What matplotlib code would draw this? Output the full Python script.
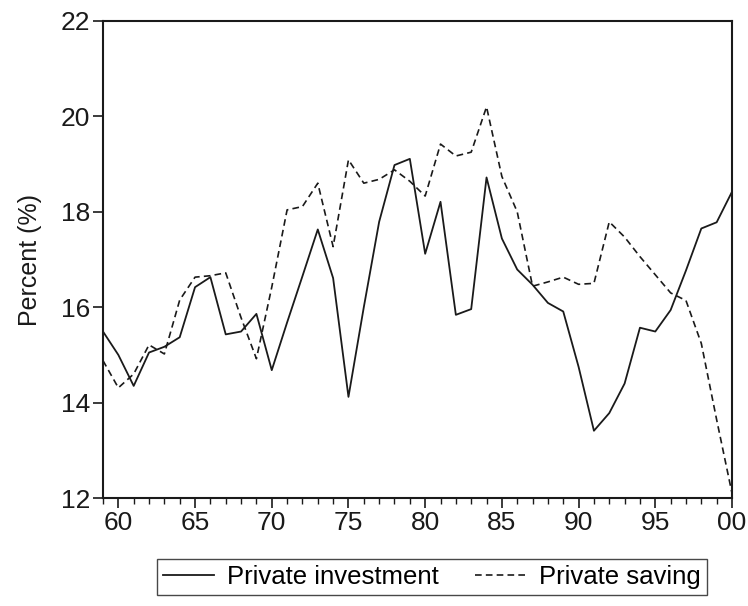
import matplotlib
matplotlib.use('Agg')
import matplotlib.pyplot as plt
from matplotlib.ticker import MultipleLocator, FuncFormatter

plt.rcParams['font.family'] = ['Liberation Sans', 'DejaVu Sans']

# Data (percent of GDP), 1959-2000
years = list(range(1959, 2001))
investment = [15.49, 15.00, 14.35, 15.05, 15.17, 15.37, 16.42, 16.63, 15.43, 15.49,
              15.86, 14.68, 15.68, 16.65, 17.63, 16.61, 14.12, 16.00, 17.79, 18.98,
              19.11, 17.12, 18.21, 15.84, 15.96, 18.72, 17.44, 16.79, 16.47, 16.09,
              15.91, 14.75, 13.41, 13.78, 14.40, 15.57, 15.49, 15.94, 16.77, 17.65,
              17.78, 18.42]
saving = [14.88, 14.31, 14.60, 15.21, 15.02, 16.15, 16.63, 16.66, 16.72, 15.78,
          14.92, 16.42, 18.04, 18.11, 18.60, 17.27, 19.09, 18.60, 18.68, 18.88,
          18.64, 18.33, 19.42, 19.17, 19.25, 20.20, 18.74, 18.00, 16.44, 16.53,
          16.63, 16.48, 16.50, 17.79, 17.47, 17.06, 16.68, 16.30, 16.14, 15.24,
          13.64, 12.10]

fig = plt.figure(figsize=(7.48, 6.06), dpi=100)
ax = fig.add_axes([103 / 748, 108 / 606, 629 / 748, 477 / 606])

ax.plot(years, investment, color='#1a1a1a', lw=1.3, label='Private investment')
ax.plot(years, saving, color='#1a1a1a', lw=1.2, linestyle=(0, (4, 2.5)),
        label='Private saving')

ax.set_xlim(1959, 2000)
ax.set_ylim(12, 22)
ax.xaxis.set_major_locator(MultipleLocator(5))
ax.xaxis.set_minor_locator(MultipleLocator(1))
ax.xaxis.set_major_formatter(FuncFormatter(lambda v, p: '%02d' % (int(round(v)) % 100)))
ax.yaxis.set_major_locator(MultipleLocator(2))

ax.tick_params(axis='both', which='major', direction='out', length=7, width=1.2,
               labelsize=19, color='#1a1a1a', labelcolor='#1a1a1a')
ax.tick_params(axis='x', which='minor', direction='out', length=4, width=1.0,
               color='#1a1a1a')
ax.tick_params(axis='x', which='major', pad=2)
ax.tick_params(axis='y', which='major', pad=2)

for s in ax.spines.values():
    s.set_linewidth(1.5)
    s.set_color('#1a1a1a')

ax.set_ylabel('Percent (%)', fontsize=18, color='#1a1a1a', labelpad=14)

leg = fig.legend(loc='center', bbox_to_anchor=(432 / 748, 29 / 606), ncol=2,
                 fontsize=18.5, frameon=True, fancybox=False, edgecolor='#1a1a1a',
                 handlelength=2.0, columnspacing=1.4, borderpad=0.25,
                 handletextpad=0.5)
leg.get_frame().set_linewidth(1.0)

fig.savefig('out.png', dpi=100)
